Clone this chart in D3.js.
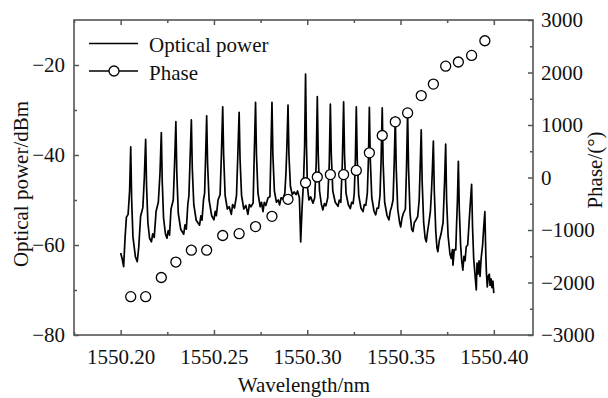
<!DOCTYPE html>
<html>
<head>
<meta charset="utf-8">
<script src="https://cdn.jsdelivr.net/npm/d3@7"></script>
<style>
  html, body { margin: 0; padding: 0; background: #fff; }
  svg text { font-family: "Liberation Serif", "Times New Roman", serif; fill: #111; }
</style>
</head>
<body>
<div class="canvas"></div>
<script>
// ====================== data ======================

// optical spectrum trace (wavelength in nm, power in dBm)
const specWl = [
  1550.2000, 1550.2008, 1550.2016, 1550.2024, 1550.2031, 1550.2040, 1550.2048,
  1550.2054, 1550.2059, 1550.2066, 1550.2079, 1550.2089, 1550.2097, 1550.2107, 1550.2119, 1550.2127,
  1550.2134, 1550.2139, 1550.2146, 1550.2155, 1550.2165, 1550.2172, 1550.2180, 1550.2190, 1550.2202, 1550.2211,
  1550.2218, 1550.2223, 1550.2230, 1550.2240, 1550.2248, 1550.2255, 1550.2262, 1550.2270, 1550.2282, 1550.2289,
  1550.2296, 1550.2301, 1550.2309, 1550.2322, 1550.2338, 1550.2345, 1550.2352, 1550.2360, 1550.2366, 1550.2372,
  1550.2379, 1550.2384, 1550.2392, 1550.2405, 1550.2423, 1550.2430, 1550.2436, 1550.2444, 1550.2450, 1550.2455,
  1550.2461, 1550.2466, 1550.2474, 1550.2488, 1550.2500, 1550.2507, 1550.2513, 1550.2522, 1550.2533, 1550.2540,
  1550.2547, 1550.2552, 1550.2560, 1550.2572, 1550.2582, 1550.2593, 1550.2600, 1550.2610, 1550.2621, 1550.2628,
  1550.2635, 1550.2640, 1550.2648, 1550.2660, 1550.2671, 1550.2682, 1550.2690, 1550.2698, 1550.2710, 1550.2716,
  1550.2723, 1550.2728, 1550.2736, 1550.2748, 1550.2755, 1550.2763, 1550.2770, 1550.2778, 1550.2790, 1550.2800, 1550.2805,
  1550.2811, 1550.2816, 1550.2824, 1550.2835, 1550.2845, 1550.2852, 1550.2860, 1550.2870, 1550.2880, 1550.2886, 1550.2891,
  1550.2897, 1550.2902, 1550.2910, 1550.2920, 1550.2930, 1550.2940, 1550.2948, 1550.2958, 1550.2965, 1550.2972, 1550.2980, 1550.2986,
  1550.2991, 1550.2996, 1550.3001, 1550.3009, 1550.3018, 1550.3031, 1550.3040, 1550.3048,
  1550.3054, 1550.3059, 1550.3066, 1550.3076, 1550.3084, 1550.3092, 1550.3100, 1550.3110, 1550.3118,
  1550.3124, 1550.3129, 1550.3137, 1550.3150, 1550.3165, 1550.3172, 1550.3180, 1550.3188,
  1550.3195, 1550.3200, 1550.3208, 1550.3220, 1550.3231, 1550.3238, 1550.3246, 1550.3252, 1550.3258,
  1550.3263, 1550.3268, 1550.3276, 1550.3288, 1550.3299, 1550.3306, 1550.3314, 1550.3322, 1550.3328,
  1550.3333, 1550.3338, 1550.3346, 1550.3358, 1550.3367, 1550.3374, 1550.3382, 1550.3390, 1550.3396,
  1550.3402, 1550.3407, 1550.3415, 1550.3428, 1550.3438, 1550.3445, 1550.3452, 1550.3460, 1550.3466,
  1550.3472, 1550.3477, 1550.3485, 1550.3495, 1550.3501, 1550.3508, 1550.3515, 1550.3526, 1550.3532,
  1550.3538, 1550.3543, 1550.3551, 1550.3560, 1550.3567, 1550.3574, 1550.3582, 1550.3592, 1550.3600, 1550.3605,
  1550.3611, 1550.3616, 1550.3624, 1550.3632, 1550.3638, 1550.3645, 1550.3652, 1550.3660, 1550.3666, 1550.3671,
  1550.3676, 1550.3681, 1550.3689, 1550.3695, 1550.3700, 1550.3708, 1550.3718, 1550.3728, 1550.3736,
  1550.3742, 1550.3747, 1550.3755, 1550.3765, 1550.3772, 1550.3778, 1550.3781, 1550.3788, 1550.3796, 1550.3800, 1550.3805,
  1550.3810, 1550.3815, 1550.3822, 1550.3828, 1550.3834, 1550.3840, 1550.3846, 1550.3852, 1550.3860, 1550.3866, 1550.3872,
  1550.3881, 1550.3886, 1550.3892, 1550.3898, 1550.3906, 1550.3910, 1550.3915, 1550.3921, 1550.3926, 1550.3932, 1550.3940, 1550.3946,
  1550.3952, 1550.3957, 1550.3960, 1550.3965, 1550.3970, 1550.3976, 1550.3980, 1550.3985, 1550.3990, 1550.3995, 1550.4000
];
const specDb = [
  -61.8, -63.0, -64.8, -58.2, -53.8, -53.2, -48.0,
  -38.2, -50.0, -58.2, -62.6, -63.7, -60.5, -53.6, -51.7, -45.0,
  -36.5, -47.0, -55.0, -58.5, -59.3, -57.5, -58.3, -52.5, -50.5, -44.0,
  -35.0, -46.0, -54.0, -57.5, -58.5, -56.8, -57.8, -52.0, -50.0, -42.0,
  -32.6, -44.0, -53.0, -56.5, -57.6, -55.5, -56.5, -51.0, -49.0, -41.0,
  -32.2, -43.0, -51.0, -54.5, -55.6, -53.5, -54.5, -50.0, -48.5, -41.0,
  -31.3, -42.0, -50.0, -53.5, -54.4, -52.5, -53.5, -50.0, -48.8, -40.0,
  -29.3, -40.0, -49.0, -52.0, -51.5, -53.2, -51.0, -51.8, -49.0, -40.0,
  -30.5, -41.0, -49.0, -52.0, -51.2, -53.2, -51.0, -51.5, -50.7, -40.0,
  -28.3, -40.0, -48.5, -51.5, -50.5, -52.6, -50.5, -51.2, -49.5, -49.3, -40.0,
  -28.3, -40.0, -48.0, -50.5, -50.0, -51.1, -49.5, -49.8, -48.5, -44.0, -38.0,
  -28.9, -40.0, -47.0, -48.8, -48.2, -48.8, -48.0, -49.5, -59.3, -52.0, -46.0, -38.0,
  -22.0, -38.0, -47.0, -50.0, -49.3, -50.7, -49.5, -42.0,
  -27.0, -40.0, -48.0, -51.0, -52.2, -50.8, -51.3, -49.5, -42.0,
  -28.7, -40.0, -48.0, -50.5, -51.4, -50.0, -50.5, -42.0,
  -28.2, -40.0, -48.5, -51.0, -51.9, -50.5, -50.8, -48.5, -41.0,
  -29.3, -41.0, -49.0, -51.8, -52.6, -51.0, -51.2, -48.5, -41.0,
  -29.4, -41.0, -49.5, -52.5, -53.3, -51.8, -51.8, -49.0, -41.0,
  -29.5, -42.0, -50.5, -53.5, -54.4, -52.5, -51.5, -50.0, -42.0,
  -31.5, -43.0, -52.0, -55.0, -56.0, -54.0, -53.0, -52.0, -43.0,
  -30.2, -43.0, -53.0, -56.5, -57.0, -55.0, -54.5, -53.7, -50.0, -43.0,
  -34.4, -46.0, -55.0, -58.5, -59.3, -57.0, -55.0, -52.6, -48.0, -43.0,
  -36.9, -48.0, -57.0, -60.5, -61.5, -59.0, -57.4, -55.0, -46.0,
  -37.6, -50.0, -58.0, -62.0, -63.0, -61.0, -64.5, -61.0, -61.1, -56.0, -50.0,
  -41.4, -52.0, -60.0, -63.5, -65.6, -62.5, -63.5, -60.4, -60.0, -56.0, -52.0,
  -46.5, -56.0, -63.0, -66.0, -70.0, -64.0, -66.5, -63.5, -67.0, -63.0, -60.0, -56.0,
  -52.6, -62.0, -65.9, -69.3, -67.0, -66.5, -69.0, -67.5, -69.5, -68.0, -70.7
];

// phase markers (wavelength in nm, phase in degrees)
const phaseWl = [
  1550.2054, 1550.2134, 1550.2218, 1550.2296, 1550.2379, 1550.2461, 1550.2547, 1550.2635,
  1550.2723, 1550.2811, 1550.2897, 1550.2991, 1550.3054, 1550.3124, 1550.3195, 1550.3263,
  1550.3333, 1550.3402, 1550.3472, 1550.3538, 1550.3611, 1550.3676, 1550.3742, 1550.3810,
  1550.3881, 1550.3952
];
const phaseDeg = [
  -2270, -2270, -1905, -1610, -1385, -1385, -1105, -1070,
  -935, -740, -415, -100, 10, 55, 55, 135,
  470, 800, 1060, 1230, 1560, 1780, 2120, 2200,
  2325, 2605
];

// axis ticks
const xTicks = [1550.20, 1550.25, 1550.30, 1550.35, 1550.40];
const xMinor = [1550.175, 1550.225, 1550.275, 1550.325, 1550.375];
const yTicks = [-80, -60, -40, -20];
const yMinor = [-70, -50, -30];
const phaseTicks = [-3000, -2000, -1000, 0, 1000, 2000, 3000];
const phaseMinor = [-2500, -1500, -500, 500, 1500, 2500];


// ====================== chart ======================

const svgWidth = 608;
const svgHeight = 398;
const margin = {top: 20, right: 75, bottom: 63, left: 74};
const graphWidth = svgWidth - margin.left - margin.right;
const graphHeight = svgHeight - margin.top - margin.bottom;

const axisColor = '#555';
const fontSize = 21;

const svg = d3.select('.canvas')
  .append('svg')
    .attr('width', svgWidth)
    .attr('height', svgHeight);

const graph = svg.append('g')
  .attr('transform', `translate(${margin.left},${margin.top})`);

const x = d3.scaleLinear()
  .domain([1550.175, 1550.421])
  .range([0, graphWidth]);

const y = d3.scaleLinear()
  .domain([-80, -10])
  .range([graphHeight, 0]);

const yPhase = d3.scaleLinear()
  .domain([-3000, 3000])
  .range([graphHeight, 0]);

// style an axis group: grey ticks, serif labels, no domain path
function styleAxis(g) {
  g.select('.domain').remove();
  g.selectAll('line').attr('stroke', axisColor).attr('stroke-width', 1.5);
  g.selectAll('text')
    .attr('font-family', '"Liberation Serif", "Times New Roman", serif')
    .attr('font-size', fontSize)
    .attr('fill', '#111');
}

// bottom + top ticks
graph.append('g')
  .attr('transform', `translate(0,${graphHeight})`)
  .call(d3.axisBottom(x).tickValues(xTicks).tickFormat(d3.format('.2f'))
    .tickSizeInner(-5).tickSizeOuter(0).tickPadding(14))
  .call(styleAxis);
graph.append('g')
  .attr('transform', `translate(0,${graphHeight})`)
  .call(d3.axisBottom(x).tickValues(xMinor).tickFormat('').tickSizeInner(-3).tickSizeOuter(0))
  .call(styleAxis);
graph.append('g')
  .call(d3.axisTop(x).tickValues(xTicks).tickFormat('').tickSizeInner(-5).tickSizeOuter(0))
  .call(styleAxis);
graph.append('g')
  .call(d3.axisTop(x).tickValues(xMinor).tickFormat('').tickSizeInner(-3).tickSizeOuter(0))
  .call(styleAxis);

// left power axis
graph.append('g')
  .call(d3.axisLeft(y).tickValues(yTicks).tickFormat(d3.format('d'))
    .tickSizeInner(-5).tickSizeOuter(0).tickPadding(9))
  .call(styleAxis);
graph.append('g')
  .call(d3.axisLeft(y).tickValues(yMinor).tickFormat('').tickSizeInner(-3).tickSizeOuter(0))
  .call(styleAxis);

// right phase axis
graph.append('g')
  .attr('transform', `translate(${graphWidth},0)`)
  .call(d3.axisRight(yPhase).tickValues(phaseTicks).tickFormat(d3.format('d'))
    .tickSizeInner(-5).tickSizeOuter(0).tickPadding(8))
  .call(styleAxis);
graph.append('g')
  .attr('transform', `translate(${graphWidth},0)`)
  .call(d3.axisRight(yPhase).tickValues(phaseMinor).tickFormat('').tickSizeInner(-3).tickSizeOuter(0))
  .call(styleAxis);

// frame
graph.append('rect')
  .attr('width', graphWidth)
  .attr('height', graphHeight)
  .attr('fill', 'none')
  .attr('stroke', axisColor)
  .attr('stroke-width', 1.6);

// spectrum trace
const spectrum = specWl.map((w, i) => ({wl: w, db: specDb[i]}));

graph.append('path')
  .datum(spectrum)
  .attr('fill', 'none')
  .attr('stroke', '#000')
  .attr('stroke-width', 1.7)
  .attr('stroke-linejoin', 'round')
  .attr('d', d3.line().x(d => x(d.wl)).y(d => y(d.db)));

// phase markers
const phase = phaseWl.map((w, i) => ({wl: w, deg: phaseDeg[i]}));

graph.selectAll('circle.phase')
  .data(phase)
  .enter()
  .append('circle')
    .attr('class', 'phase')
    .attr('cx', d => x(d.wl))
    .attr('cy', d => yPhase(d.deg))
    .attr('r', 5)
    .attr('fill', '#fff')
    .attr('stroke', '#000')
    .attr('stroke-width', 1.3);

// legend
const legend = svg.append('g');

legend.append('line')
  .attr('x1', 89).attr('x2', 138)
  .attr('y1', 43.5).attr('y2', 43.5)
  .attr('stroke', '#000').attr('stroke-width', 1.5);
legend.append('text')
  .attr('x', 149).attr('y', 52)
  .attr('font-size', fontSize)
  .text('Optical power');

legend.append('line')
  .attr('x1', 89).attr('x2', 138)
  .attr('y1', 71).attr('y2', 71)
  .attr('stroke', '#000').attr('stroke-width', 1.5);
legend.append('circle')
  .attr('cx', 114).attr('cy', 71).attr('r', 5)
  .attr('fill', '#fff').attr('stroke', '#000').attr('stroke-width', 1.3);
legend.append('text')
  .attr('x', 149).attr('y', 79.5)
  .attr('font-size', fontSize)
  .text('Phase');

// axis titles
svg.append('text')
  .attr('x', 304).attr('y', 392)
  .attr('text-anchor', 'middle')
  .attr('font-size', fontSize)
  .text('Wavelength/nm');

svg.append('text')
  .attr('transform', 'translate(28,184) rotate(-90)')
  .attr('text-anchor', 'middle')
  .attr('font-size', fontSize)
  .text('Optical power/dBm');

svg.append('text')
  .attr('transform', 'translate(602,170) rotate(-90)')
  .attr('text-anchor', 'middle')
  .attr('font-size', fontSize)
  .text('Phase/(°)');
</script>
</body>
</html>
